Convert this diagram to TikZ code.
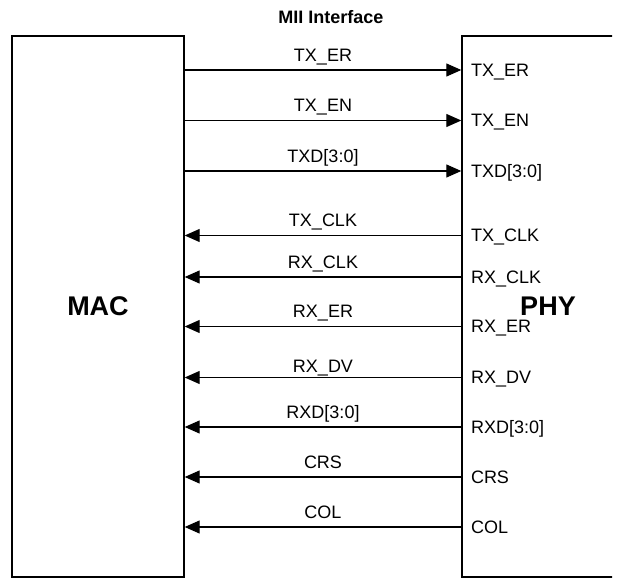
\documentclass[tikz,border=0pt]{standalone}
\usepackage{fontspec}
\setmainfont{Liberation Sans}
\usepackage{tikz}
\usetikzlibrary{arrows.meta, positioning}
\tikzset{
    blocknode/.style = {draw, rectangle, line width=1.4pt, minimum width=172pt, minimum height=541pt, 
      inner sep=0em, node distance=0em, font=\fontsize{27}{27}\selectfont\bfseries},
    textnode/.style  = {draw=none, fill=none, rectangle, inner sep=0em, node distance=0em, 
      font=\fontsize{18}{18}\selectfont},
    titlenode/.style = {textnode, font=\fontsize{18}{18}\selectfont\bfseries},
    pinnode/.style   = {textnode, text width=80pt, align=left, text height=12.9pt, text depth=0pt},
    labelnode/.style = {textnode, anchor=base, midway, yshift=8.5pt},
    connect/.style   = {black, line width=1.2pt, -{Triangle[length=15pt, width=13pt]}}
}

\begin{document}
\begin{tikzpicture}[x=1pt, y=1pt]
    \useasboundingbox (0,0) rectangle (621,578);
    \clip (0,0) rectangle (612,578);

    \node [blocknode, name=MAC] at (98,271.5) {MAC};
    \node [blocknode, name=PHY, right of=MAC, xshift=450pt] {PHY};
    \node [titlenode, name=title, above of=MAC, xshift=233pt, yshift=289.5pt] {MII Interface};

    % pins on the PHY side
    \node [pinnode, name=txer, right of=PHY, xshift=-37pt, yshift=236.5pt] {TX\_ER};
    \node [pinnode, name=txen, below of=txer, yshift=-50.5pt] {TX\_EN};
    \node [pinnode, name=txd, below of=txen, yshift=-50.5pt] {TXD[3:0]};
    \node [pinnode, name=txclk, below of=txd, yshift=-64.5pt] {TX\_CLK};
    \node [pinnode, name=rxclk, below of=txclk, yshift=-41.5pt] {RX\_CLK};
    \node [pinnode, name=rxer, below of=rxclk, yshift=-49.5pt] {RX\_ER};
    \node [pinnode, name=rxdv, below of=rxer, yshift=-51pt] {RX\_DV};
    \node [pinnode, name=rxd, below of=rxdv, yshift=-49.5pt] {RXD[3:0]};
    \node [pinnode, name=crs, below of=rxd, yshift=-50pt] {CRS};
    \node [pinnode, name=col, below of=crs, yshift=-50pt] {COL};

    % MAC to PHY
    \draw [connect] (MAC.east |- txer.center) -- (PHY.west |- txer.center) node [labelnode] {TX\_ER};
    \draw [connect] (MAC.east |- txen.center) -- (PHY.west |- txen.center) node [labelnode] {TX\_EN};
    \draw [connect] (MAC.east |- txd.center) -- (PHY.west |- txd.center) node [labelnode] {TXD[3:0]};

    % PHY to MAC
    \draw [connect] (PHY.west |- txclk.center) -- (MAC.east |- txclk.center) node [labelnode] {TX\_CLK};
    \draw [connect] (PHY.west |- rxclk.center) -- (MAC.east |- rxclk.center) node [labelnode] {RX\_CLK};
    \draw [connect] (PHY.west |- rxer.center) -- (MAC.east |- rxer.center) node [labelnode] {RX\_ER};
    \draw [connect] (PHY.west |- rxdv.center) -- (MAC.east |- rxdv.center) node [labelnode, yshift=-3.5pt] {RX\_DV};
    \draw [connect] (PHY.west |- rxd.center) -- (MAC.east |- rxd.center) node [labelnode] {RXD[3:0]};
    \draw [connect] (PHY.west |- crs.center) -- (MAC.east |- crs.center) node [labelnode] {CRS};
    \draw [connect] (PHY.west |- col.center) -- (MAC.east |- col.center) node [labelnode] {COL};
\end{tikzpicture}
\end{document}
